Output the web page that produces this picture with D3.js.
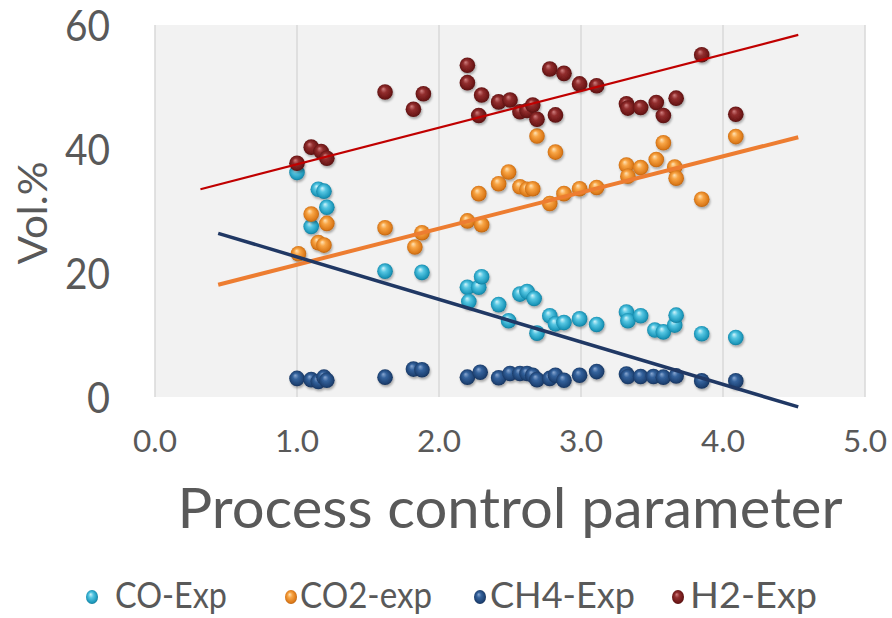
<!DOCTYPE html>
<html><head><meta charset="utf-8">
<script src="https://cdn.jsdelivr.net/npm/d3@7"></script>
<style>body{margin:0;background:#fff}svg{display:block}text{font-family:Lato,'Open Sans',sans-serif;fill:#595959}</style>
</head><body><svg id="c" width="892" height="618"></svg>
<script>
const seriesNames = ["CO-Exp","CO2-exp","CH4-Exp","H2-Exp"];
const coX = [1.00,1.10,1.15,1.19,1.21,1.62,1.88,2.20,2.21,2.28,2.30,2.42,2.49,2.57,2.62,2.67,2.69,2.78,2.82,2.88,2.99,3.11,3.32,3.33,3.42,3.52,3.58,3.66,3.67,3.85,4.09];
const coY = [36.2,27.5,33.5,33.2,30.6,20.3,20.1,17.7,15.4,17.7,19.4,14.9,12.3,16.6,17.0,15.9,10.3,13.1,11.8,12.0,12.6,11.7,13.7,12.3,13.1,10.8,10.5,11.6,13.2,10.2,9.6];
const co2X = [1.01,1.10,1.15,1.19,1.21,1.62,1.83,1.88,2.20,2.28,2.30,2.42,2.49,2.57,2.62,2.66,2.69,2.78,2.82,2.88,2.99,3.11,3.32,3.33,3.42,3.53,3.58,3.66,3.67,3.85,4.09];
const co2Y = [23.1,29.5,24.9,24.5,28.0,27.3,24.2,26.5,28.4,32.8,27.8,34.4,36.3,33.9,33.5,33.6,42.1,31.2,39.5,32.8,33.6,33.8,37.4,35.6,37.0,38.3,41.0,37.1,35.3,31.9,42.0];
const ch4X = [1.00,1.10,1.15,1.19,1.21,1.62,1.82,1.88,2.20,2.29,2.42,2.50,2.57,2.62,2.66,2.69,2.78,2.82,2.88,2.99,3.11,3.32,3.33,3.42,3.51,3.58,3.67,3.85,4.09];
const ch4Y = [3.0,2.8,2.5,3.2,2.7,3.2,4.5,4.4,3.2,4.0,3.1,3.8,3.8,3.8,3.5,2.8,3.0,3.5,2.7,3.5,4.1,3.7,3.3,3.3,3.3,3.2,3.4,2.6,2.6];
const h2X = [1.00,1.10,1.17,1.21,1.62,1.82,1.89,2.20,2.20,2.28,2.30,2.42,2.50,2.57,2.62,2.66,2.69,2.78,2.82,2.88,2.99,3.11,3.32,3.33,3.42,3.53,3.58,3.67,3.85,4.09];
const h2Y = [37.7,40.3,39.6,38.5,49.2,46.4,48.9,53.5,50.7,45.4,48.7,47.6,47.9,46.0,46.2,47.1,44.8,52.9,45.5,52.2,50.5,50.2,47.3,46.6,46.7,47.5,45.4,48.2,55.2,45.6];
// trend lines: [x0, y0, x1, y1]
const trendH2 = [0.32,33.5,4.53,58.4];
const trendCO2 = [0.445,18.1,4.53,41.9];
const trendCO = [0.445,26.4,4.53,-1.6];
const xTicks = [0,1,2,3,4,5];
const yTicks = [0,20,40,60];
const xTitle = "Process control parameter";
const yTitle = "Vol.%";

const svg = d3.select("#c");
const L=155,R=865,T=25,B=397;
const x = d3.scaleLinear().domain([0,5]).range([L,R]);
const y = d3.scaleLinear().domain([0,60]).range([B,T]);

const defs = svg.append("defs");
const grads = [
  {id:"gCO", s:["#d2f4fb","#55c6e2","#1d98bb","#0f6e8a"]},
  {id:"gCO2", s:["#ffe4b8","#f8a545","#dc7a1a","#a9570b"]},
  {id:"gCH4", s:["#8aa8d2","#34629c","#1e4273","#132a4e"]},
  {id:"gH2", s:["#d08080","#922e2e","#6c1717","#470b0b"]}
];
grads.forEach(g=>{
  const rg = defs.append("radialGradient").attr("id",g.id).attr("cx","50%").attr("cy","50%").attr("r","55%").attr("fx","38%").attr("fy","30%");
  [0,0.35,0.8,1].forEach((o,i)=>rg.append("stop").attr("offset",o).attr("stop-color",g.s[i]));
});
const f = defs.append("filter").attr("id","sh").attr("x","-50%").attr("y","-50%").attr("width","200%").attr("height","200%");
f.append("feDropShadow").attr("dx",1).attr("dy",2).attr("stdDeviation",1.2).attr("flood-color","#000").attr("flood-opacity",0.3);

svg.append("rect").attr("x",L).attr("y",T).attr("width",R-L).attr("height",B-T).attr("fill","#f2f2f2");
svg.append("g").selectAll("line").data(xTicks).join("line")
  .attr("x1",d=>x(d)).attr("x2",d=>x(d)).attr("y1",T).attr("y2",B)
  .attr("stroke","#d9d9d9").attr("stroke-width",1.5);

function fit(sel, w){ sel.each(function(){ this.setAttribute("textLength", w); this.setAttribute("lengthAdjust","spacingAndGlyphs"); }); }

// x tick labels
svg.append("g").selectAll("text").data(xTicks).join("text")
  .attr("x",d=>x(d)).attr("y",452).attr("text-anchor","middle").attr("font-size",31)
  .text(d=>d3.format(".1f")(d)).call(fit,44);
// y tick labels
svg.append("g").selectAll("text").data(yTicks).join("text")
  .attr("x",110).attr("y",d=>y(d)+15.5).attr("text-anchor","end").attr("font-size",43)
  .text(d=>d).each(function(d){ this.setAttribute("textLength", String(d).length>1?45:23); this.setAttribute("lengthAdjust","spacingAndGlyphs"); });
// titles
svg.append("text").attr("x",510).attr("y",528).attr("text-anchor","middle").attr("font-size",56).text(xTitle).call(fit,665);
svg.append("text").attr("transform","translate(47,213) rotate(-90)").attr("text-anchor","middle").attr("font-size",41).text(yTitle).call(fit,103);

const series = [
  {xs:coX, ys:coY, g:"gCO"},
  {xs:co2X, ys:co2Y, g:"gCO2"},
  {xs:ch4X, ys:ch4Y, g:"gCH4"},
  {xs:h2X, ys:h2Y, g:"gH2"}
];
series.forEach(s=>{
  svg.append("g").attr("filter","url(#sh)").selectAll("circle").data(s.xs.map((v,i)=>[v,s.ys[i]])).join("circle")
    .attr("cx",d=>x(d[0])).attr("cy",d=>y(d[1])).attr("r",7.8).attr("fill",`url(#${s.g})`);
});
const trends = [{t:trendCO2,c:"#ED7D31",w:4},{t:trendCO,c:"#203864",w:3.5},{t:trendH2,c:"#C00000",w:2.2}];
trends.forEach(tr=>{
  svg.append("line").attr("x1",x(tr.t[0])).attr("y1",y(tr.t[1])).attr("x2",x(tr.t[2])).attr("y2",y(tr.t[3]))
    .attr("stroke",tr.c).attr("stroke-width",tr.w);
});

// legend
const legX = [92,291,480,678], legTX=[115,300,490,690], legW=[112,132,145,127];
const lg = svg.append("g");
seriesNames.forEach((n,i)=>{
  lg.append("ellipse").attr("cx",legX[i]).attr("cy",597).attr("rx",6).attr("ry",7).attr("fill",`url(#${grads[i].id})`);
  lg.append("text").attr("x",legTX[i]).attr("y",608).attr("font-size",36).text(n).call(fit,legW[i]);
});
</script></body></html>
